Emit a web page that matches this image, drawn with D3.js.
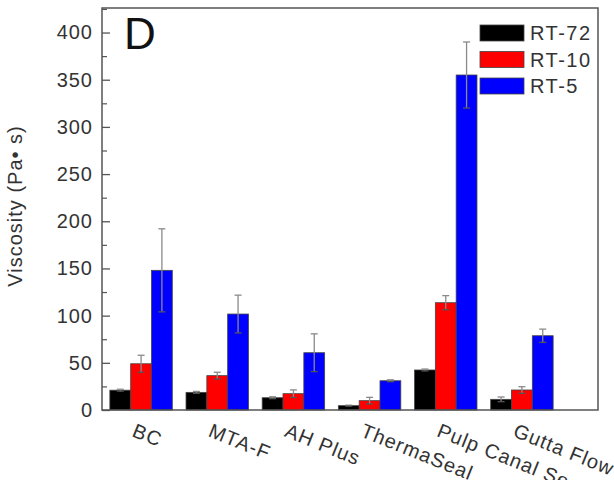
<!DOCTYPE html>
<html>
<head>
<meta charset="utf-8">
<script src="https://cdn.jsdelivr.net/npm/d3@7"></script>
<style>
body { margin:0; background:#fff; }
text { font-family: "Liberation Sans", Arial, sans-serif; }
</style>
</head>
<body>
<div id="chart"></div>
<script>
// values (Pa·s)
var categories = ["BC", "MTA-F", "AH Plus", "ThermaSeal", "Pulp Canal Sealer", "Gutta Flow"];
var seriesNames = ["RT-72", "RT-10", "RT-5"];
var seriesColors = ["#000000", "#ff0000", "#0000ff"];
var rt72 = [21, 18.7, 13, 4.6, 42.4, 11.3];
var rt72Err = [1, 1, 1, 0.5, 1, 2.5];
var rt10 = [49, 36.4, 17.3, 9.9, 113.7, 21.2];
var rt10Err = [9, 3.6, 4, 3.5, 7.5, 3.5];
var rt5 = [148, 101.7, 60.7, 31, 355, 78.7];
var rt5Err = [44, 20, 20, 1, 35, 7];
var yTicks = [0, 50, 100, 150, 200, 250, 300, 350, 400];
var yMinor = [25, 75, 125, 175, 225, 275, 325, 375, 425];

function drawChart(){
var W = 614, H = 480;
var pLeft = 102, pRight = 598, pTop = 8, pBottom = 410;

var svg = d3.select("#chart").append("svg").attr("width", W).attr("height", H);

var y = d3.scaleLinear().domain([0, 426]).range([pBottom, pTop]);
var x0 = d3.scaleBand().domain(categories).range([pLeft + 1, 560]).paddingInner(0.18).paddingOuter(0.09);
var x1 = d3.scaleBand().domain(seriesNames).range([0, x0.bandwidth()]);

var values = [rt72, rt10, rt5];
var errs = [rt72Err, rt10Err, rt5Err];
var rows = [];
categories.forEach(function(c, i){
    seriesNames.forEach(function(s, j){
        rows.push({cat: c, s: s, v: values[j][i], e: errs[j][i], color: seriesColors[j]});
    });
});

// bars
svg.append("g").selectAll("rect").data(rows).enter().append("rect")
    .attr("x", function(d){ return x0(d.cat) + x1(d.s); })
    .attr("y", function(d){ return y(d.v); })
    .attr("width", x1.bandwidth())
    .attr("height", function(d){ return y(0) - y(d.v); })
    .attr("fill", function(d){ return d.color; })
    .attr("stroke", "#444").attr("stroke-width", 0.8);

// error bars
var eb = svg.append("g").attr("stroke", "#8a8a8a").attr("stroke-width", 1.3);
rows.forEach(function(d){
    var cx = x0(d.cat) + x1(d.s) + x1.bandwidth() / 2;
    eb.append("line").attr("x1", cx).attr("x2", cx).attr("y1", y(d.v + d.e)).attr("y2", y(d.v - d.e));
    eb.append("line").attr("x1", cx - 3.5).attr("x2", cx + 3.5).attr("y1", y(d.v + d.e)).attr("y2", y(d.v + d.e));
    eb.append("line").attr("x1", cx - 3.5).attr("x2", cx + 3.5).attr("y1", y(d.v - d.e)).attr("y2", y(d.v - d.e))
        .attr("stroke", "#555");
});

// frame
svg.append("rect").attr("x", pLeft).attr("y", pTop).attr("width", pRight - pLeft).attr("height", pBottom - pTop)
    .attr("fill", "none").attr("stroke", "#555").attr("stroke-width", 1.5);

// y axis, ticks inside
var ya = svg.append("g").attr("transform", "translate(" + pLeft + ",0)")
    .call(d3.axisLeft(y).tickValues(yTicks).tickSize(-8).tickPadding(9));
ya.select(".domain").remove();
ya.selectAll("line").attr("stroke", "#555").attr("stroke-width", 1.3);
ya.selectAll("text").attr("font-size", 20).attr("letter-spacing", 1).attr("fill", "#333")
    .attr("font-family", "Liberation Sans, Arial, sans-serif");

var ym = svg.append("g").attr("transform", "translate(" + pLeft + ",0)")
    .call(d3.axisLeft(y).tickValues(yMinor.filter(function(v){ return v < 426; })).tickSize(-5).tickFormat(""));
ym.select(".domain").remove();
ym.selectAll("line").attr("stroke", "#555").attr("stroke-width", 1.2);

// y label
svg.append("text").attr("transform", "translate(22,206) rotate(-90)")
    .attr("text-anchor", "middle").attr("font-size", 20).attr("letter-spacing", 1).attr("fill", "#333")
    .text("Viscosity (Pa\u2022 s)");

// x labels, rotated
svg.append("g").selectAll("text").data(categories).enter().append("text")
    .attr("transform", function(c){ return "translate(" + (x0(c) + x0.bandwidth() / 2 - 10) + ",436) rotate(22)"; })
    .attr("font-size", 20).attr("letter-spacing", 1).attr("fill", "#333")
    .text(function(c){ return c; });

// panel letter
svg.append("text").attr("x", 124).attr("y", 49).attr("font-size", 44).attr("fill", "#111").text("D");

// legend
var lg = svg.append("g").attr("transform", "translate(480,25)");
seriesNames.forEach(function(s, i){
    lg.append("rect").attr("x", 0).attr("y", i * 26.5).attr("width", 44).attr("height", 16)
        .attr("fill", seriesColors[i]).attr("stroke", "#444").attr("stroke-width", 0.8);
    lg.append("text").attr("x", 50).attr("y", i * 26.5 + 15).attr("font-size", 20).attr("letter-spacing", 1.5)
        .attr("fill", "#333").text(s);
});
}
drawChart();
</script>
</body>
</html>
